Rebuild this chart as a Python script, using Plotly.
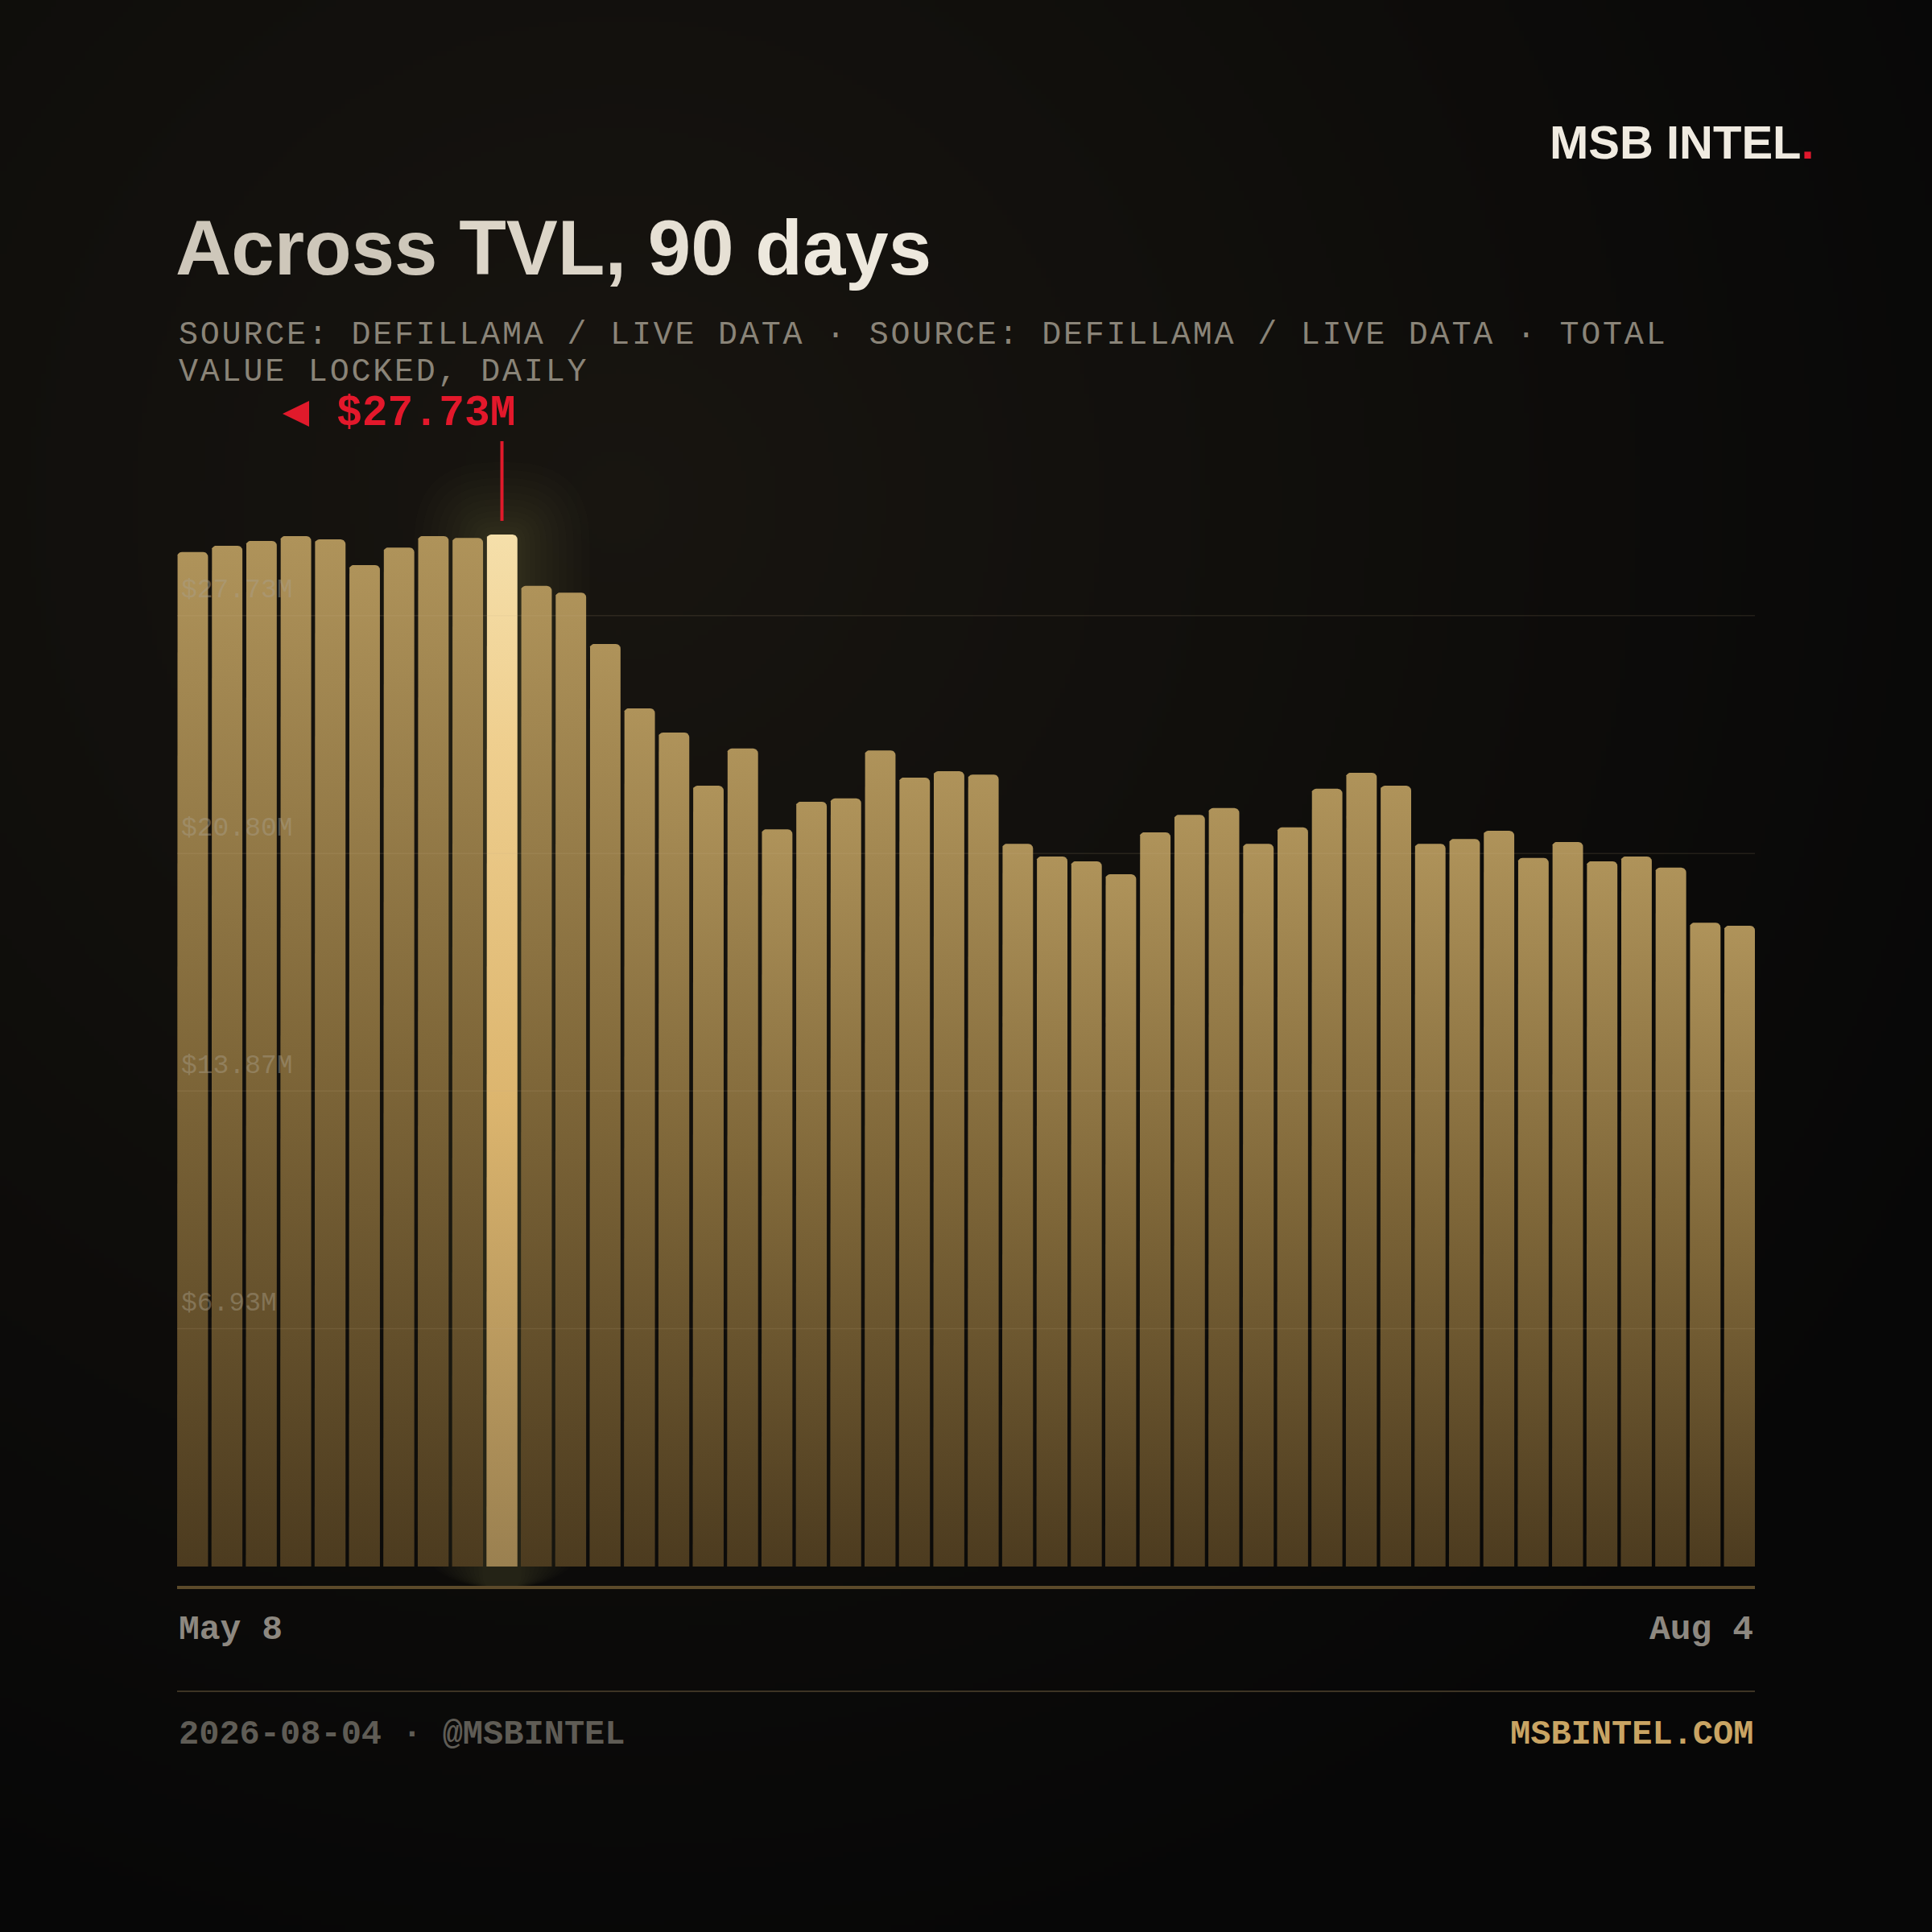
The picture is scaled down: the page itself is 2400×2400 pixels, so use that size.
import base64
import struct
import zlib

import numpy as np
import plotly.graph_objects as go

# ---------------- data ----------------
TITLE_WORDS = ["Across", "TVL,", "90", "days"]
SUBTITLE_LINES = [
    "SOURCE: DEFILLAMA / LIVE DATA · SOURCE: DEFILLAMA / LIVE DATA · TOTAL",
    "VALUE LOCKED, DAILY",
]
BRAND = "MSB INTEL"
TVL_M = [27.26, 27.43, 27.56, 27.69, 27.60, 26.91, 27.38, 27.69, 27.64, 27.73,
         26.35, 26.17, 24.79, 23.06, 22.41, 20.98, 21.98, 19.81, 20.55, 20.64,
         21.93, 21.20, 21.37, 21.28, 19.42, 19.08, 18.95, 18.60, 19.73, 20.20,
         20.38, 19.42, 19.86, 20.90, 21.33, 20.98, 19.42, 19.55, 19.77, 19.04,
         19.47, 18.95, 19.08, 18.78, 17.30, 17.22]
PEAK_LABEL = "$27.73M"
GRID_LEVELS = [6.39, 12.78, 19.16, 25.55]
GRID_LABELS = ["$6.93M", "$13.87M", "$20.80M", "$27.73M"]
X_LABELS = ["May 8", "Aug 4"]
FOOTER_LEFT = "2026-08-04 · @MSBINTEL"
FOOTER_RIGHT = "MSBINTEL.COM"

# ---------------- layout constants (pixels) ----------------
W = H = 2400
PLOT_L, PLOT_R = 220, 2180
BASE_PX = 1946
TOP_PX = 400
PX_PER_M = 46.23
Y_MAX = (BASE_PX - TOP_PX) / PX_PER_M
N = len(TVL_M)
X_PAD = 0.45
X_MIN, X_MAX = -X_PAD, N - 1 + X_PAD
PX_PER_X = (PLOT_R - PLOT_L) / (X_MAX - X_MIN)
BAR_W = 0.9
RADIUS_PX = 6

MONO = "Liberation Mono, DejaVu Sans Mono, monospace"
SANS = "Liberation Sans, Arial, Helvetica, sans-serif"


def px_x(v):
    return PLOT_L + (v - X_MIN) * PX_PER_X


def px_y(v):
    return BASE_PX - v * PX_PER_M


def fx(px):
    return px / W


def fy(py):
    return 1 - py / H


# ---------------- background image ----------------
def make_png(arr):
    h, w, _ = arr.shape
    raw = b"".join(b"\x00" + arr[r].tobytes() for r in range(h))

    def chunk(t, d):
        c = struct.pack(">I", len(d)) + t + d
        return c + struct.pack(">I", zlib.crc32(t + d) & 0xFFFFFFFF)

    return (b"\x89PNG\r\n\x1a\n"
            + chunk(b"IHDR", struct.pack(">IIBBBBB", w, h, 8, 2, 0, 0, 0))
            + chunk(b"IDAT", zlib.compress(raw, 9))
            + chunk(b"IEND", b""))


S = 400
uu, vv = np.meshgrid((np.arange(S) + 0.5) / S, (np.arange(S) + 0.5) / S)
d = np.sqrt(((uu - 0.32) / 0.78) ** 2 + ((vv - 0.26) / 0.78) ** 2)
t = np.clip(d, 0, 1)[..., None]
c0 = np.array([24, 21, 16], dtype=float)
c1 = np.array([7, 7, 7], dtype=float)
bg = (c0 * (1 - t) + c1 * t).round().astype(np.uint8)
bg_src = "data:image/png;base64," + base64.b64encode(make_png(bg)).decode()

fig = go.Figure()

# ---------------- bars (scatter polygons with vertical gradient) ----------------
peak_idx = int(np.argmax(TVL_M))
NORMAL_CS = [[0, "#4c3b1f"], [0.5, "#7f6739"], [1, "#af935a"]]
PEAK_CS = [[0, "#9a8050"], [0.45, "#dcb56e"], [0.8, "#efcf8f"], [1, "#f5dfaa"]]

rx = RADIUS_PX / PX_PER_X
ry = RADIUS_PX / PX_PER_M
for i, v in enumerate(TVL_M):
    x0, x1 = i - BAR_W / 2, i + BAR_W / 2
    xs, ys = [x0], [0]
    for a in np.linspace(np.pi, np.pi / 2, 8):
        xs.append(x0 + rx + rx * np.cos(a))
        ys.append(v - ry + ry * np.sin(a))
    for a in np.linspace(np.pi / 2, 0, 8):
        xs.append(x1 - rx + rx * np.cos(a))
        ys.append(v - ry + ry * np.sin(a))
    xs += [x1, x0]
    ys += [0, 0]
    fig.add_trace(go.Scatter(
        x=xs, y=ys, mode="lines", fill="toself", line=dict(width=0),
        fillgradient=dict(type="vertical",
                          colorscale=PEAK_CS if i == peak_idx else NORMAL_CS,
                          start=0, stop=v),
        hoverinfo="skip", showlegend=False,
    ))

shapes = []


def rrect_path(x0, y0, x1, y1, r):
    pts = [
        ("M", x0 + r, y0), ("L", x1 - r, y0), ("Q", x1, y0, x1, y0 + r),
        ("L", x1, y1 - r), ("Q", x1, y1, x1 - r, y1), ("L", x0 + r, y1),
        ("Q", x0, y1, x0, y1 - r), ("L", x0, y0 + r), ("Q", x0, y0, x0 + r, y0),
    ]
    out = []
    for p in pts:
        cmd = p[0]
        coords = p[1:]
        s = []
        for k in range(0, len(coords), 2):
            s.append(f"{fx(coords[k]):.5f},{fy(coords[k + 1]):.5f}")
        out.append(cmd + " ".join(s))
    return " ".join(out) + " Z"


# soft glow around the peak bar
cx = px_x(peak_idx)
half = BAR_W / 2 * PX_PER_X
top = px_y(TVL_M[peak_idx])
for e in [90, 80, 70, 61, 52, 44, 36, 29, 22, 16, 10, 5]:
    shapes.append(dict(
        type="path", xref="paper", yref="paper", layer="below",
        path=rrect_path(cx - half - e, top - e, cx + half + e, BASE_PX + 26, e + 10),
        fillcolor="rgba(214,176,104,0.016)", line=dict(width=0),
    ))

# gridlines (above bars)
for g in GRID_LEVELS:
    shapes.append(dict(
        type="line", xref="paper", yref="y", x0=fx(PLOT_L), x1=fx(PLOT_R), y0=g, y1=g,
        line=dict(color="rgba(200,180,140,0.13)", width=1.5), layer="above",
    ))

# axis line and divider
shapes.append(dict(type="line", xref="paper", yref="paper",
                   x0=fx(PLOT_L), x1=fx(PLOT_R), y0=fy(1972), y1=fy(1972),
                   line=dict(color="#5c4a2a", width=4), layer="above"))
shapes.append(dict(type="line", xref="paper", yref="paper",
                   x0=fx(PLOT_L), x1=fx(PLOT_R), y0=fy(2101), y1=fy(2101),
                   line=dict(color="#3d3424", width=2), layer="above"))

# peak marker line
shapes.append(dict(type="line", xref="x", yref="paper",
                   x0=peak_idx, x1=peak_idx, y0=fy(top - 17), y1=fy(top - 116),
                   line=dict(color="#e01a2b", width=4), layer="above"))
# triangle pointer
tri_right = cx + 17.5 - 257
shapes.append(dict(
    type="path", xref="paper", yref="paper", layer="above",
    path=(f"M{fx(tri_right - 33):.5f},{fy(514):.5f} L{fx(tri_right):.5f},{fy(498):.5f} "
          f"L{fx(tri_right):.5f},{fy(530):.5f} Z"),
    fillcolor="#e01a2b", line=dict(width=0),
))

annotations = []

# title
title_colors = ["#cec7ba", "#dcd5c8", "#e6e0d4", "#ede8dd"]
title_html = " ".join(f"<span style='color:{c}'>{w}</span>" for w, c in zip(TITLE_WORDS, title_colors))
annotations.append(dict(text=f"<b>{title_html}</b>", xref="paper", yref="paper",
                        x=fx(216), y=fy(307), xanchor="left", yanchor="middle",
                        showarrow=False, font=dict(family=SANS, size=96, color="#e6e0d4")))
# brand
annotations.append(dict(text=f"<b>{BRAND}<span style='color:#e0182d'>.</span></b>",
                        xref="paper", yref="paper", x=fx(2256), y=fy(176),
                        xanchor="right", yanchor="middle", showarrow=False,
                        font=dict(family=SANS, size=58, color="#f0ebe1")))
# subtitle
for k, (line, cyp) in enumerate(zip(SUBTITLE_LINES, [417, 463])):
    annotations.append(dict(text=f"<span style='letter-spacing:2.8px'>{line}</span>",
                            xref="paper", yref="paper", x=fx(220), y=fy(cyp),
                            xanchor="left", yanchor="middle", showarrow=False,
                            font=dict(family=MONO, size=40, color="#8a8478")))
# peak label
annotations.append(dict(text=f"<b>{PEAK_LABEL}</b>", xref="x", yref="paper",
                        x=peak_idx, xshift=19, y=fy(514), xanchor="right", yanchor="middle",
                        showarrow=False, font=dict(family=MONO, size=53, color="#e3182b")))
# grid labels
for g, lab in zip(GRID_LEVELS, GRID_LABELS):
    annotations.append(dict(text=lab, xref="paper", yref="y", x=fx(223), y=g,
                            yshift=31, xanchor="left", yanchor="middle", showarrow=False,
                            font=dict(family=MONO, size=33, color="rgba(170,160,140,0.45)")))
# x labels
annotations.append(dict(text=f"<b>{X_LABELS[0]}</b>", xref="paper", yref="paper",
                        x=fx(PLOT_L), y=fy(2024), xanchor="left", yanchor="middle",
                        showarrow=False, font=dict(family=MONO, size=43, color="#8d8880")))
annotations.append(dict(text=f"<b>{X_LABELS[1]}</b>", xref="paper", yref="paper",
                        x=fx(PLOT_R), y=fy(2024), xanchor="right", yanchor="middle",
                        showarrow=False, font=dict(family=MONO, size=43, color="#8d8880")))
# footer
annotations.append(dict(text=f"<b>{FOOTER_LEFT}</b>", xref="paper", yref="paper",
                        x=fx(PLOT_L), y=fy(2155), xanchor="left", yanchor="middle",
                        showarrow=False, font=dict(family=MONO, size=42, color="#5f5c55")))
annotations.append(dict(text=f"<b>{FOOTER_RIGHT}</b>", xref="paper", yref="paper",
                        x=fx(PLOT_R), y=fy(2155), xanchor="right", yanchor="middle",
                        showarrow=False, font=dict(family=MONO, size=42, color="#c9a463")))

fig.update_layout(
    width=W, height=H,
    margin=dict(l=0, r=0, t=0, b=0, pad=0),
    paper_bgcolor="#0b0b0b",
    plot_bgcolor="rgba(0,0,0,0)",
    showlegend=False,
    xaxis=dict(domain=[fx(PLOT_L), fx(PLOT_R)], range=[X_MIN, X_MAX], visible=False, fixedrange=True),
    yaxis=dict(domain=[fy(BASE_PX), fy(TOP_PX)], range=[0, Y_MAX], visible=False, fixedrange=True),
    images=[dict(source=bg_src, xref="paper", yref="paper", x=0, y=1, sizex=1, sizey=1,
                 xanchor="left", yanchor="top", sizing="stretch", layer="below")],
    shapes=shapes,
    annotations=annotations,
)

fig.write_html("out.html", config={"displayModeBar": False},
               post_script="document.body.style.margin='0';document.body.style.background='#080808';")
